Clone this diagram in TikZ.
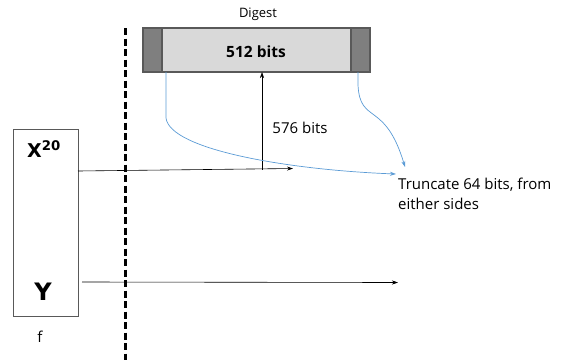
\documentclass[tikz,border=0pt]{standalone}
\usepackage{fontspec}
\setmainfont{Open Sans}
\newfontfamily\dejabold{DejaVu Sans}
\usetikzlibrary{arrows.meta}
\definecolor{darkblk}{HTML}{7F7F7F}
\definecolor{lightblk}{HTML}{D9D9D9}
\definecolor{edgegray}{HTML}{595959}
\definecolor{bluel}{HTML}{5B9BD5}
\begin{document}
\begin{tikzpicture}[x=1pt,y=-1pt,
  blk/.style={draw=edgegray,line width=1.2pt,inner sep=0pt,outer sep=0pt,minimum height=44pt},
  arr/.style={-{Stealth[length=6pt,width=4pt]},line width=0.6pt},
  barr/.style={-{Stealth[length=6pt,width=4pt]},draw=bluel,line width=0.7pt},
  lbl/.style={inner sep=0pt,anchor=base west}]
\useasboundingbox (0,0) rectangle (574,360);
% dashed separator
\draw[line width=3pt,dash pattern=on 7pt off 3.5pt] (125,28) coordinate (dtop) -- (125,360) coordinate (dbot);
% digest box
\node[blk,fill=lightblk,minimum width=189pt] (mid) at (256.5,50) {};
\node[blk,fill=darkblk,minimum width=19pt] (lb) at (152.5,50) {};
\node[blk,fill=darkblk,minimum width=19pt] (rb) at (360.5,50) {};
\node[font=\fontsize{13}{15}\selectfont] (dig) at (258,14) {Digest};
\node[font=\bfseries\fontsize{15.5}{17}\selectfont] (bits) at (256,52) {512 bits};
% function box
\node[draw=edgegray,line width=0.8pt,minimum width=65pt,minimum height=187pt,inner sep=0pt] (f) at (45.5,222.5) {};
\node[font=\dejabold\bfseries\fontsize{19}{21}\selectfont] (x20) at (44,149) {X\textsuperscript{20}};
\node[font=\dejabold\bfseries\fontsize{24}{26}\selectfont] (y) at (43,292) {Y};
\node[font=\fontsize{15}{17}\selectfont] (fl) at (40,337) {f};
% coordinates
\coordinate (xs) at (78,171);
\coordinate (xe) at (293,168.5);
\coordinate (vs) at (262,169.5);
\coordinate (ys) at (82,282);
\coordinate (ye) at (398,282.5);
% arrows
\draw[arr] (xs) -- (xe);
\draw[arr] (vs) -- (vs |- mid.south);
\node[font=\fontsize{15}{17}\selectfont] (l576) at (300,128) {576 bits};
\draw[arr] (ys) -- (ye);
% truncate text
\node[lbl,font=\fontsize{15}{17}\selectfont] (t1) at (398,189) {Truncate 64 bits, from};
\node[lbl,font=\fontsize{15}{17}\selectfont] (t2) at (398,209) {either sides};
% blue curves
\coordinate (bl) at (166,72);
\coordinate (br) at (358,72);
\draw[barr] (bl) -- (166,118) .. controls (170,150) and (290,170) .. (396,174);
\draw[barr] (br) -- (358,85) .. controls (360,125) and (385,100) .. (405,167);
\end{tikzpicture}
\end{document}
